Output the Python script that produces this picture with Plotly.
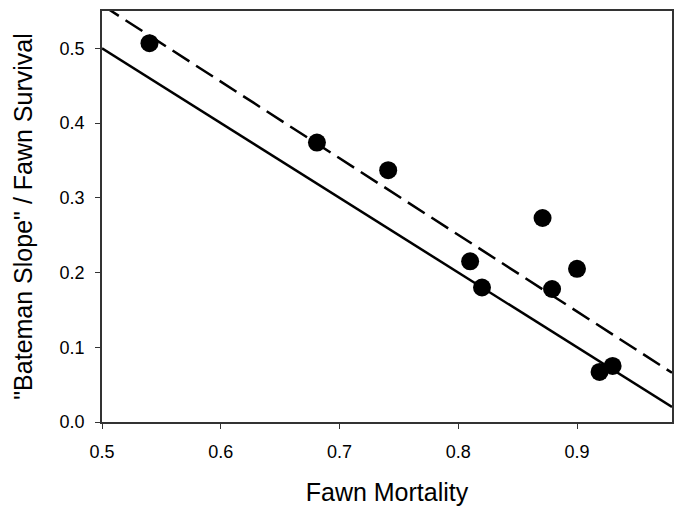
import numpy as np
import plotly.graph_objects as go

# Data
fawn_mortality = [0.540, 0.681, 0.741, 0.810, 0.820, 0.871, 0.879, 0.900, 0.919, 0.930]
bateman_ratio = [0.507, 0.374, 0.337, 0.215, 0.180, 0.273, 0.178, 0.205, 0.067, 0.075]

x_range = [0.5, 0.98]
y_range = [0.0, 0.55]
x_ticks = [0.5, 0.6, 0.7, 0.8, 0.9]
y_ticks = [0.0, 0.1, 0.2, 0.3, 0.4, 0.5]

# Reference line: survival = 1 - mortality
ref_x = np.array(x_range)
ref_y = 1.0 - ref_x

# Least-squares fit through the points
slope, intercept = np.polyfit(fawn_mortality, bateman_ratio, 1)
fit_y = intercept + slope * ref_x

fig = go.Figure()
fig.add_trace(go.Scatter(x=ref_x, y=ref_y, mode="lines",
                         line=dict(color="black", width=2.5), showlegend=False))
fig.add_trace(go.Scatter(x=ref_x, y=fit_y, mode="lines",
                         line=dict(color="black", width=2.5, dash="20px,8px"), showlegend=False))
fig.add_trace(go.Scatter(x=fawn_mortality, y=bateman_ratio, mode="markers",
                         marker=dict(color="black", size=18), showlegend=False,
                         cliponaxis=False))

font_family = "Liberation Sans, Arial, sans-serif"
axis_common = dict(
    showgrid=False, zeroline=False, showline=True, mirror=True,
    linecolor="#333333", linewidth=1.5, automargin=False,
    ticks="outside", ticklen=5, tickwidth=1.2, tickcolor="#333333",
    tickfont=dict(family=font_family, size=18, color="black"),
)

fig.update_layout(
    width=678, height=506,
    margin=dict(l=102, r=6, t=11, b=84),
    paper_bgcolor="white", plot_bgcolor="white",
    xaxis=dict(range=x_range, tickvals=x_ticks, ticktext=[f"{v:.1f}" for v in x_ticks],
               ticklabelstandoff=8,
               title=dict(text="Fawn Mortality", font=dict(family=font_family, size=25, color="black"),
                          standoff=24),
               **axis_common),
    yaxis=dict(range=y_range, tickvals=y_ticks, ticktext=[f"{v:.1f}" for v in y_ticks],
               ticklabelstandoff=7,
               title=dict(text='"Bateman Slope" / Fawn Survival',
                          font=dict(family=font_family, size=25, color="black"),
                          standoff=20),
               **axis_common),
)

fig.write_html("out.html", config={"displayModeBar": False},
               post_script="document.body.style.margin='0';")
